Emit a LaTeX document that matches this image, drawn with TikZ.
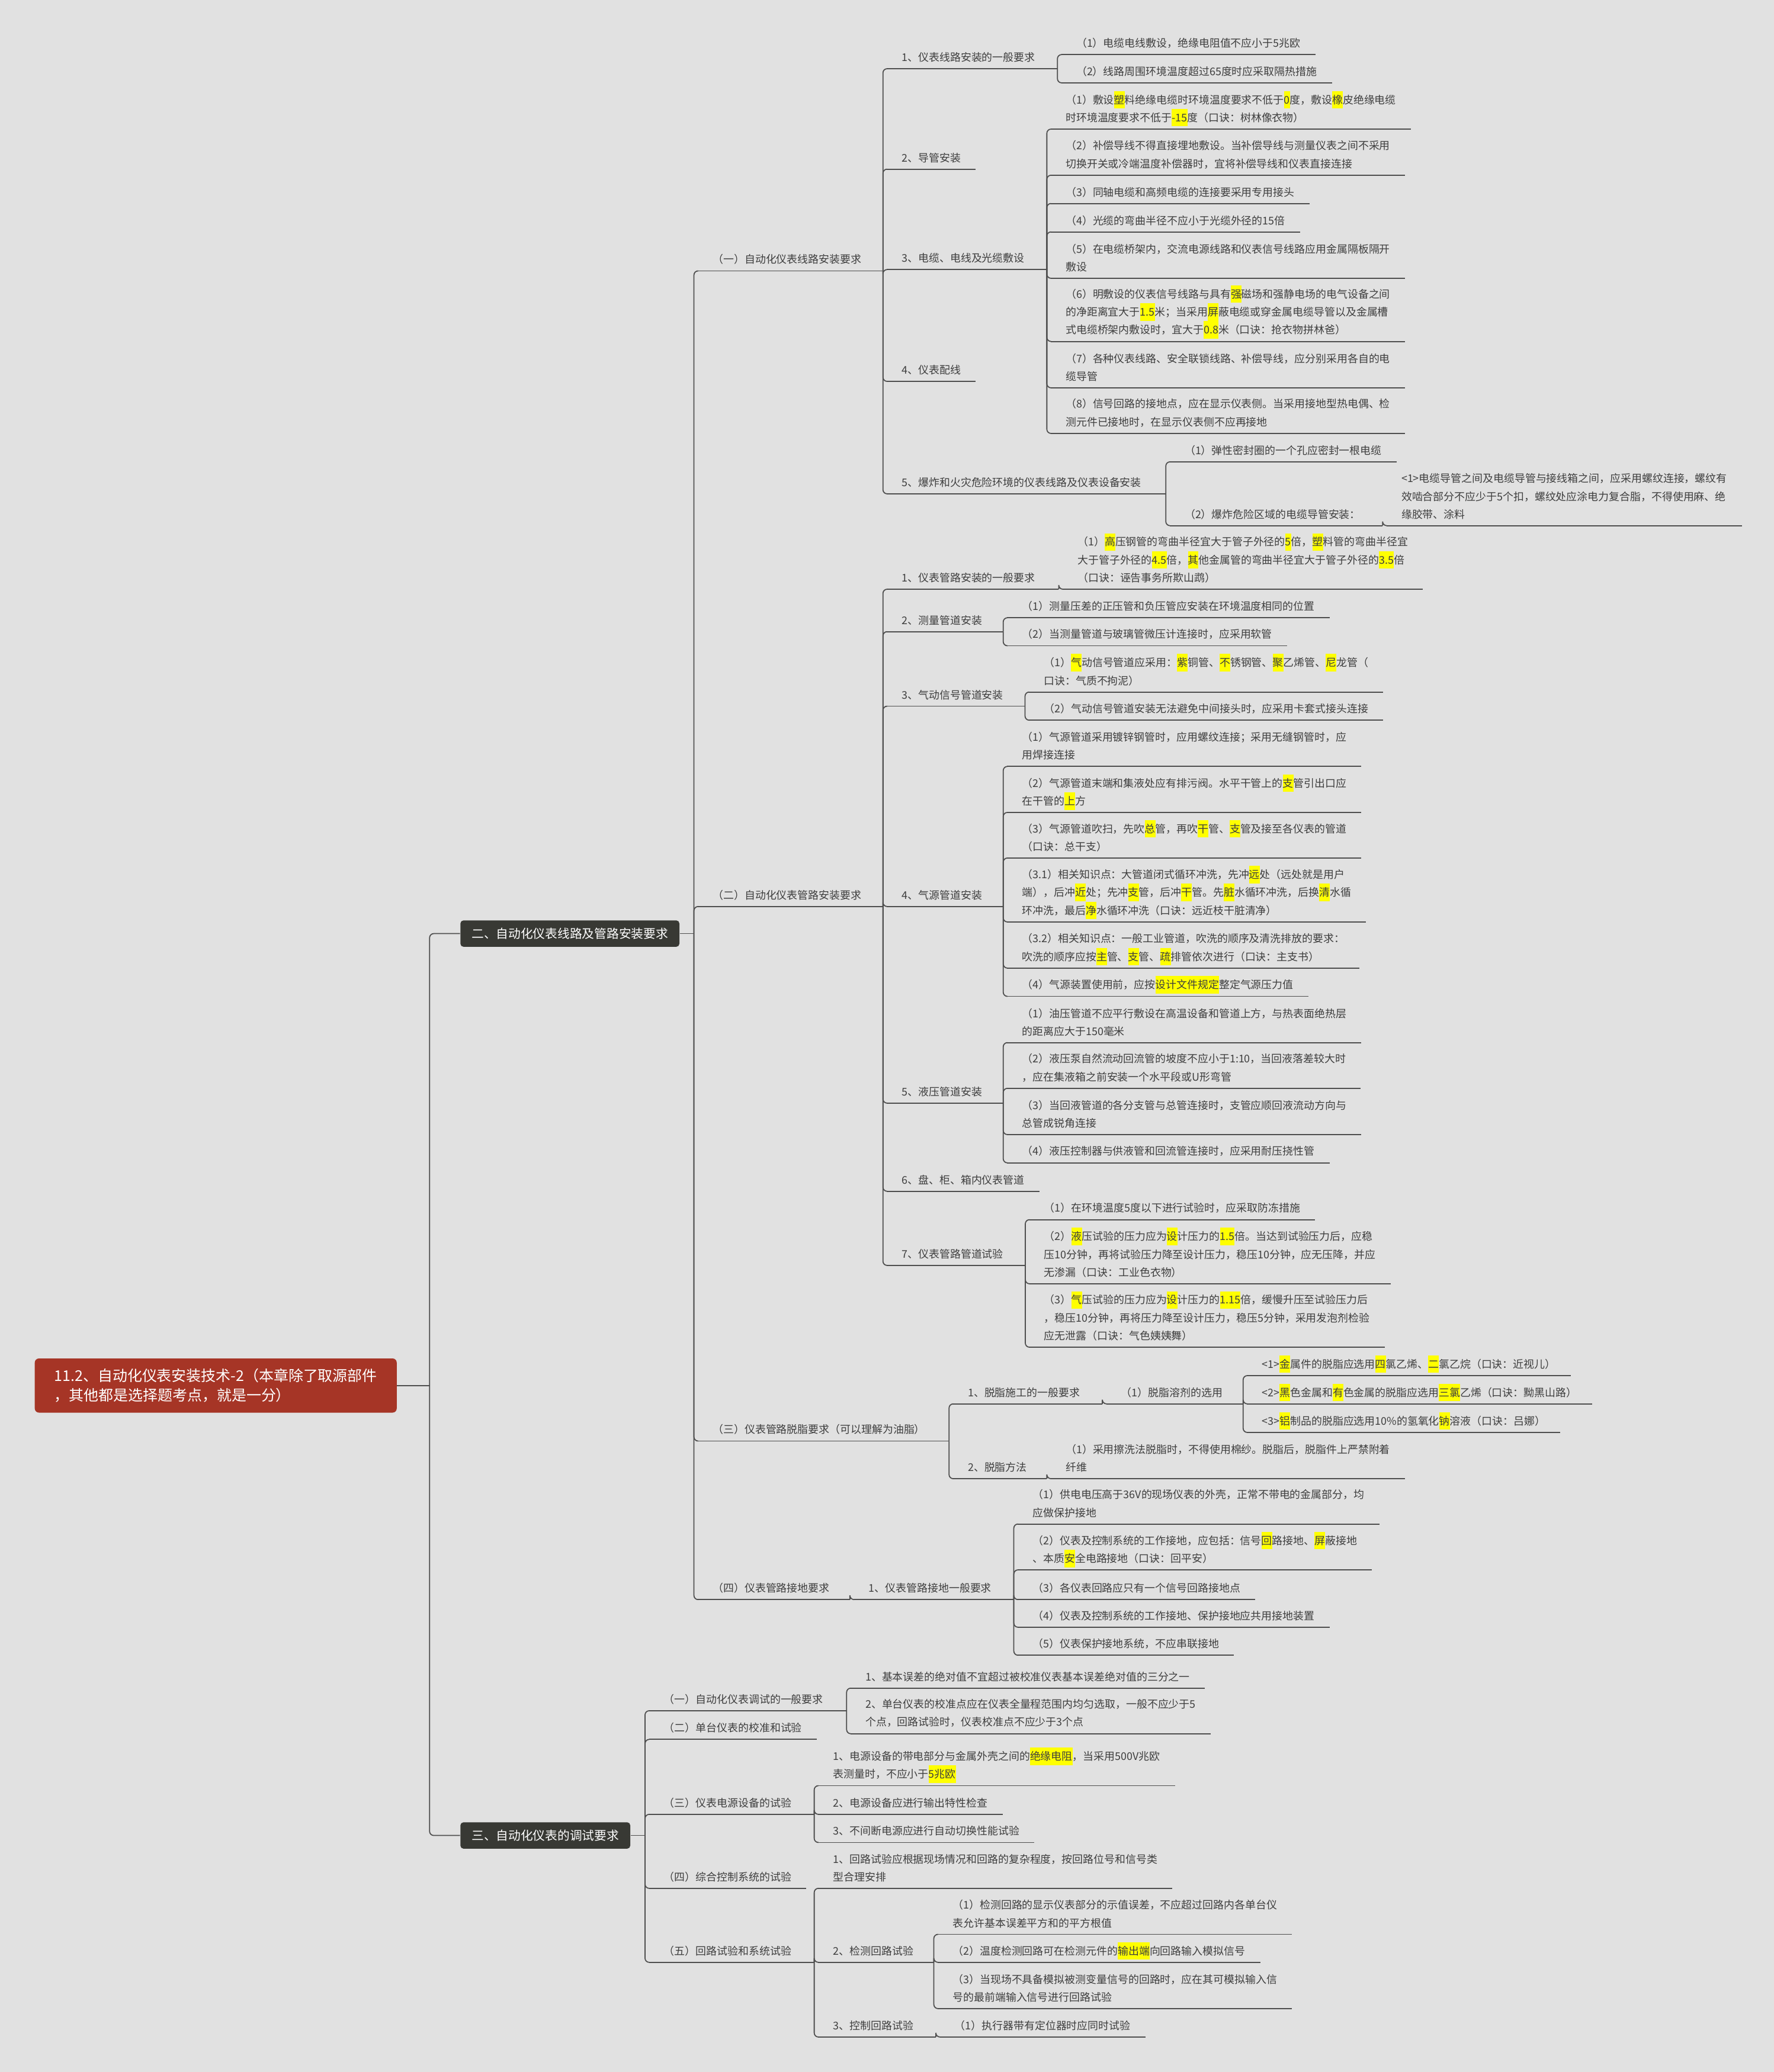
\documentclass[tikz,border=0pt]{standalone}
\usepackage{fontspec}
\setmainfont{Noto Sans CJK SC}
\definecolor{sfondo}{HTML}{E1E1E1}
\definecolor{linea}{HTML}{4E4E4E}
\definecolor{testo}{HTML}{3E3E3E}
\definecolor{rosso}{HTML}{A63526}
\definecolor{scuro}{HTML}{383934}
\definecolor{evidgiallo}{HTML}{FFFF00}
% evidenziatura gialla dietro i caratteri
\newcommand\evid[1]{\setbox0\hbox{#1}\smash{\rlap{\textcolor{evidgiallo}{\rule[-2.3pt]{\wd0}{8.4pt}}}}#1}
\begin{document}
\begin{tikzpicture}[
    x=0.22317mm,y=-0.22317mm,
    ln/.style={line width=0.5pt,draw=linea},
    conn/.style={ln,rounded corners=2pt},
    topic/.style={anchor=south west,align=left,inner xsep=2.45mm,inner ysep=2.9pt,
      text=testo,font=\fontsize{5.1pt}{8.6pt}\selectfont,
      append after command={(\tikzlastnode.south west) edge[ln] (\tikzlastnode.south east)}},
    capo/.style={anchor=west,fill=scuro,text=white,rounded corners=1.5pt,
      inner xsep=1.9mm,minimum height=4.46mm,font=\fontsize{5.9pt}{7pt}\selectfont},
    radice/.style={anchor=west,fill=rosso,text=white,rounded corners=2pt,align=left,
      inner xsep=3.3mm,minimum height=9.15mm,font=\fontsize{7.1pt}{9.5pt}\selectfont}]

  \fill[sfondo] (0,0) rectangle (1342,1568);
  \useasboundingbox (0,0) rectangle (1342,1568);

  % ---- radice e rami principali ----------------------------------------------
  \node[radice] (root) at (26,1048.5) {11.2、自动化仪表安装技术-2（本章除了取源部件\\，其他都是选择题考点，就是一分）};
  \node[capo] (ca) at (348,706.5) {二、自动化仪表线路及管路安装要求};
  \node[capo] (cb) at (348,1389) {三、自动化仪表的调试要求};

  % ---- 二、 ----------------------------------------------------------------
  \node[topic] (n1) at (528,205)    {（一）自动化仪表线路安装要求};
  \node[topic] (n2) at (528,686)    {（二）自动化仪表管路安装要求};
  \node[topic] (n3) at (528,1090.5) {（三）仪表管路脱脂要求（可以理解为油脂）};
  \node[topic] (n4) at (528,1210.5) {（四）仪表管路接地要求};

  % (一)
  \node[topic] (a1) at (671,52)    {1、仪表线路安装的一般要求};
  \node[topic] (a2) at (671,128)   {2、导管安装};
  \node[topic] (a3) at (671,204)   {3、电缆、电线及光缆敷设};
  \node[topic] (a4) at (671,288.6) {4、仪表配线};
  \node[topic] (a5) at (671,373.7) {5、爆炸和火灾危险环境的仪表线路及仪表设备安装};

  \node[topic] (a1a) at (803,41.3) {（1）电缆电线敷设，绝缘电阻值不应小于5兆欧};
  \node[topic] (a1b) at (803,62.7) {（2）线路周围环境温度超过65度时应采取隔热措施};

  \node[topic] (a3a) at (795,97.7)  {（1）敷设\evid{塑}料绝缘电缆时环境温度要求不低于\evid{0}度，敷设\evid{橡}皮绝缘电缆\\时环境温度要求不低于\evid{-15}度（口诀：树林像衣物）};
  \node[topic] (a3b) at (795,132.6) {（2）补偿导线不得直接埋地敷设。当补偿导线与测量仪表之间不采用\\切换开关或冷端温度补偿器时，宜将补偿导线和仪表直接连接};
  \node[topic] (a3c) at (795,154)   {（3）同轴电缆和高频电缆的连接要采用专用接头};
  \node[topic] (a3d) at (795,175.5) {（4）光缆的弯曲半径不应小于光缆外径的15倍};
  \node[topic] (a3e) at (795,210.6) {（5）在电缆桥架内，交流电源线路和仪表信号线路应用金属隔板隔开\\敷设};
  \node[topic] (a3f) at (795,258.4) {（6）明敷设的仪表信号线路与具有\evid{强}磁场和强静电场的电气设备之间\\的净距离宜大于\evid{1.5}米；当采用\evid{屏}蔽电缆或穿金属电缆导管以及金属槽\\式电缆桥架内敷设时，宜大于\evid{0.8}米（口诀：抢衣物拼林爸）};
  \node[topic] (a3g) at (795,293.5) {（7）各种仪表线路、安全联锁线路、补偿导线，应分别采用各自的电\\缆导管};
  \node[topic] (a3h) at (795,328)   {（8）信号回路的接地点，应在显示仪表侧。当采用接地型热电偶、检\\测元件已接地时，在显示仪表侧不应再接地};

  \node[topic] (a5a) at (885,349.5)  {（1）弹性密封圈的一个孔应密封一根电缆};
  \node[topic] (a5b) at (885,397.8)  {（2）爆炸危险区域的电缆导管安装：};
  \node[topic] (a5c) at (1049,397.8) {<1>电缆导管之间及电缆导管与接线箱之间，应采用螺纹连接，螺纹有\\效啮合部分不应少于5个扣，螺纹处应涂电力复合脂，不得使用麻、绝\\缘胶带、涂料};

  % (二)
  \node[topic] (b1) at (671,445.9) {1、仪表管路安装的一般要求};
  \node[topic] (b2) at (671,478)   {2、测量管道安装};
  \node[topic] (b3) at (671,534.4) {3、气动信号管道安装};
  \node[topic] (b4) at (671,686)   {4、气源管道安装};
  \node[topic] (b5) at (671,834.8) {5、液压管道安装};
  \node[topic] (b6) at (671,901.5) {6、盘、柜、箱内仪表管道};
  \node[topic] (b7) at (671,957.6) {7、仪表管路管道试验};

  \node[topic] (b1a) at (804,445.9) {（1）\evid{高}压钢管的弯曲半径宜大于管子外径的\evid{5}倍，\evid{塑}料管的弯曲半径宜\\大于管子外径的\evid{4.5}倍，\evid{其}他金属管的弯曲半径宜大于管子外径的\evid{3.5}倍\\（口诀：诬告事务所欺山鹉）};

  \node[topic] (b2a) at (762,467.5) {（1）测量压差的正压管和负压管应安装在环境温度相同的位置};
  \node[topic] (b2b) at (762,488.7) {（2）当测量管道与玻璃管微压计连接时，应采用软管};

  \node[topic] (b3a) at (778.5,523.7) {（1）\evid{气}动信号管道应采用：\evid{紫}铜管、\evid{不}锈钢管、\evid{聚}乙烯管、\evid{尼}龙管（\\口诀：气质不拘泥）};
  \node[topic] (b3b) at (778.5,545)   {（2）气动信号管道安装无法避免中间接头时，应采用卡套式接头连接};

  \node[topic] (b4a) at (762,580)   {（1）气源管道采用镀锌钢管时，应用螺纹连接；采用无缝钢管时，应\\用焊接连接};
  \node[topic] (b4b) at (762,614.8) {（2）气源管道末端和集液处应有排污阀。水平干管上的\evid{支}管引出口应\\在干管的\evid{上}方};
  \node[topic] (b4c) at (762,649.3) {（3）气源管道吹扫，先吹\evid{总}管，再吹\evid{干}管、\evid{支}管及接至各仪表的管道\\（口诀：总干支）};
  \node[topic] (b4d) at (762,697.7) {（3.1）相关知识点：大管道闭式循环冲洗，先冲\evid{远}处（远处就是用户\\端），后冲\evid{近}处；先冲\evid{支}管，后冲\evid{干}管。先\evid{脏}水循环冲洗，后换\evid{清}水循\\环冲洗，最后\evid{净}水循环冲洗（口诀：远近枝干脏清净）};
  \node[topic] (b4e) at (762,732.6) {（3.2）相关知识点：一般工业管道，吹洗的顺序及清洗排放的要求：\\吹洗的顺序应按\evid{主}管、\evid{支}管、\evid{疏}排管依次进行（口诀：主支书）};
  \node[topic] (b4f) at (762,754)   {（4）气源装置使用前，应按\evid{设计文件规定}整定气源压力值};

  \node[topic] (b5a) at (762,789)   {（1）油压管道不应平行敷设在高温设备和管道上方，与热表面绝热层\\的距离应大于150毫米};
  \node[topic] (b5b) at (762,823.6) {（2）液压泵自然流动回流管的坡度不应小于1:10，当回液落差较大时\\，应在集液箱之前安装一个水平段或U形弯管};
  \node[topic] (b5c) at (762,858.6) {（3）当回液管道的各分支管与总管连接时，支管应顺回液流动方向与\\总管成锐角连接};
  \node[topic] (b5d) at (762,880)   {（4）液压控制器与供液管和回流管连接时，应采用耐压挠性管};

  \node[topic] (b7a) at (778.7,923)    {（1）在环境温度5度以下进行试验时，应采取防冻措施};
  \node[topic] (b7b) at (778.7,971.5)  {（2）\evid{液}压试验的压力应为\evid{设}计压力的\evid{1.5}倍。当达到试验压力后，应稳\\压10分钟，再将试验压力降至设计压力，稳压10分钟，应无压降，并应\\无渗漏（口诀：工业色衣物）};
  \node[topic] (b7c) at (778.7,1019.5) {（3）\evid{气}压试验的压力应为\evid{设}计压力的\evid{1.15}倍，缓慢升压至试验压力后\\，稳压10分钟，再将压力降至设计压力，稳压5分钟，采用发泡剂检验\\应无泄露（口诀：气色姨姨舞）};

  % (三)
  \node[topic] (c1) at (721,1062.4) {1、脱脂施工的一般要求};
  \node[topic] (c2) at (721,1119)   {2、脱脂方法};
  \node[topic] (c1a) at (837,1062.4) {（1）脱脂溶剂的选用};
  \node[topic] (c1b) at (943.5,1041)   {<1>\evid{金}属件的脱脂应选用\evid{四}氯乙烯、\evid{二}氯乙烷（口诀：近视儿）};
  \node[topic] (c1c) at (943.5,1062.4) {<2>\evid{黑}色金属和\evid{有}色金属的脱脂应选用\evid{三氯}乙烯（口诀：黝黑山路）};
  \node[topic] (c1d) at (943.5,1084)   {<3>\evid{铝}制品的脱脂应选用10\%的氢氧化\evid{钠}溶液（口诀：吕娜）};
  \node[topic] (c2a) at (795,1119) {（1）采用擦洗法脱脂时，不得使用棉纱。脱脂后，脱脂件上严禁附着\\纤维};

  % (四)
  \node[topic] (d1) at (646,1210.5) {1、仪表管路接地一般要求};
  \node[topic] (d1a) at (770,1153.3) {（1）供电电压高于36V的现场仪表的外壳，正常不带电的金属部分，均\\应做保护接地};
  \node[topic] (d1b) at (770,1188)   {（2）仪表及控制系统的工作接地，应包括：信号\evid{回}路接地、\evid{屏}蔽接地\\、本质\evid{安}全电路接地（口诀：回平安）};
  \node[topic] (d1c) at (770,1210.5) {（3）各仪表回路应只有一个信号回路接地点};
  \node[topic] (d1d) at (770,1231.4) {（4）仪表及控制系统的工作接地、保护接地应共用接地装置};
  \node[topic] (d1e) at (770,1252.6) {（5）仪表保护接地系统，不应串联接地};

  % ---- 三、 ----------------------------------------------------------------
  \node[topic] (e1) at (491,1294.6) {（一）自动化仪表调试的一般要求};
  \node[topic] (e2) at (491,1316.3) {（二）单台仪表的校准和试验};
  \node[topic] (e3) at (491,1373)   {（三）仪表电源设备的试验};
  \node[topic] (e4) at (491,1429)   {（四）综合控制系统的试验};
  \node[topic] (e5) at (491,1485)   {（五）回路试验和系统试验};

  \node[topic] (e1a) at (643.5,1277.5) {1、基本误差的绝对值不宜超过被校准仪表基本误差绝对值的三分之一};
  \node[topic] (e1b) at (643.5,1312)   {2、单台仪表的校准点应在仪表全量程范围内均匀选取，一般不应少于5\\个点，回路试验时，仪表校准点不应少于3个点};

  \node[topic] (e3a) at (619,1351.3) {1、电源设备的带电部分与金属外壳之间的\evid{绝缘电阻}，当采用500V兆欧\\表测量时，不应小于\evid{5兆欧}};
  \node[topic] (e3b) at (619,1373)   {2、电源设备应进行输出特性检查};
  \node[topic] (e3c) at (619,1394.3) {3、不间断电源应进行自动切换性能试验};

  \node[topic] (e5a) at (619,1429)   {1、回路试验应根据现场情况和回路的复杂程度，按回路位号和信号类\\型合理安排};
  \node[topic] (e5b) at (619,1485)   {2、检测回路试验};
  \node[topic] (e5c) at (619,1541.5) {3、控制回路试验};
  \node[topic] (e5b1) at (709.5,1463.8) {（1）检测回路的显示仪表部分的示值误差，不应超过回路内各单台仪\\表允许基本误差平方和的平方根值};
  \node[topic] (e5b2) at (709.5,1485)   {（2）温度检测回路可在检测元件的\evid{输出端}向回路输入模拟信号};
  \node[topic] (e5b3) at (709.5,1520)   {（3）当现场不具备模拟被测变量信号的回路时，应在其可模拟输入信\\号的最前端输入信号进行回路试验};
  \node[topic] (e5c1) at (711,1541.5) {（1）执行器带有定位器时应同时试验};

  % ---- collegamenti --------------------------------------------------------
  \coordinate (k0) at (325,1048.5);
  \draw[ln] (root.east) -- (k0);
  \foreach \c in {ca,cb} \draw[conn] (k0) |- (\c.west);

  \coordinate (ka) at (525,706.5);
  \draw[ln] (ca.east) -- (ka);
  \foreach \c in {n1,n2,n3,n4} \draw[conn] (ka) |- (\c.south west);

  \coordinate (kb) at (488,1389);
  \draw[ln] (cb.east) -- (kb);
  \foreach \c in {e1,e2,e3,e4,e5} \draw[conn] (kb) |- (\c.south west);

  % padre / punto del tronco / figli
  \foreach \p/\x/\y/\figli in {
      n1/668/205/{a1,a2,a3,a4,a5},
      a1/800/52/{a1a,a1b},
      a3/792/204/{a3a,a3b,a3c,a3d,a3e,a3f,a3g,a3h},
      a5/882/373.7/{a5a,a5b},
      a5b/1046/397.8/{a5c},
      n2/668/686/{b1,b2,b3,b4,b5,b6,b7},
      b1/801/445.9/{b1a},
      b2/759/478/{b2a,b2b},
      b3/775.5/534.4/{b3a,b3b},
      b4/759/686/{b4a,b4b,b4c,b4d,b4e,b4f},
      b5/759/834.8/{b5a,b5b,b5c,b5d},
      b7/775.7/957.6/{b7a,b7b,b7c},
      n3/718/1090.5/{c1,c2},
      c1/834/1062.4/{c1a},
      c1a/940.5/1062.4/{c1b,c1c,c1d},
      c2/792/1119/{c2a},
      n4/643/1210.5/{d1},
      d1/767/1210.5/{d1a,d1b,d1c,d1d,d1e},
      e1/640.5/1294.6/{e1a,e1b},
      e3/616/1373/{e3a,e3b,e3c},
      e5/616/1485/{e5a,e5b,e5c},
      e5b/706.5/1485/{e5b1,e5b2,e5b3},
      e5c/708/1541.5/{e5c1}} {
    \coordinate (k-\p) at (\x,\y);
    \draw[ln] (\p.south east) -- (k-\p);
    \foreach \c in \figli \draw[conn] (k-\p) |- (\c.south west);
  }

\end{tikzpicture}
\end{document}
